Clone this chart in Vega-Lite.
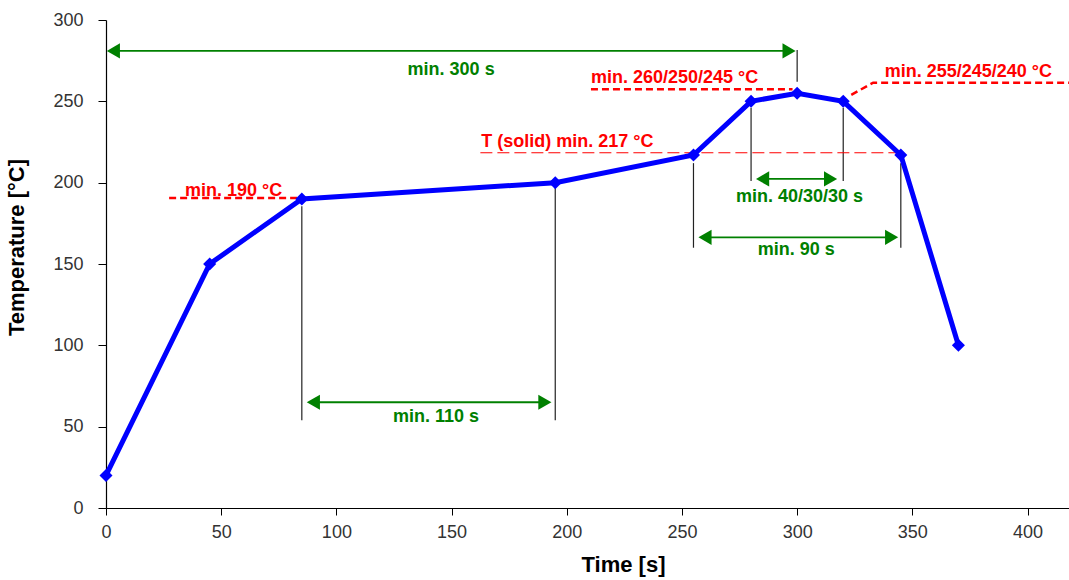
{
  "$schema": "https://vega.github.io/schema/vega-lite/v6.json",
  "autosize": "none",
  "width": 963,
  "height": 488,
  "padding": {"left": 106, "top": 20, "right": 0, "bottom": 72},
  "background": "white",
  "config": {"view": {"stroke": null}, "font": "Liberation Sans"},
  "datasets": {
    "profile": [
      {"t": 0, "temp": 20}, {"t": 45, "temp": 150}, {"t": 85, "temp": 190},
      {"t": 195, "temp": 200}, {"t": 255, "temp": 217}, {"t": 280, "temp": 250},
      {"t": 300, "temp": 255}, {"t": 320, "temp": 250}, {"t": 345, "temp": 217},
      {"t": 370, "temp": 100}
    ],
    "arrows": [
      {"x1": 3.2, "x2": 296.5, "y": 281},
      {"x1": 90, "x2": 190.5, "y": 65},
      {"x1": 285, "x2": 314.5, "y": 202.3},
      {"x1": 260, "x2": 341, "y": 166.4}
    ],
    "vlines": [
      {"x": 300, "y1": 281.5, "y2": 262},
      {"x": 85, "y1": 185.5, "y2": 54},
      {"x": 195, "y1": 197, "y2": 54},
      {"x": 255, "y1": 212, "y2": 160},
      {"x": 280, "y1": 246, "y2": 201},
      {"x": 320, "y1": 246, "y2": 201},
      {"x": 345, "y1": 212, "y2": 160}
    ],
    "reddash": [
      {"g": "a", "x": 27.4, "y": 190.5}, {"g": "a", "x": 84, "y": 190.5},
      {"g": "b", "x": 210.5, "y": 257.4}, {"g": "b", "x": 298, "y": 257.4},
      {"g": "c", "x": 323.5, "y": 254}, {"g": "c", "x": 333, "y": 261.5}, {"g": "c", "x": 418, "y": 261.5}
    ],
    "solidline": [
      {"x": 162.5, "y": 218.4}, {"x": 345, "y": 218.4}
    ],
    "greentext": [
      {"x": 149.8, "y": 266.2, "label": "min. 300 s"},
      {"x": 143.2, "y": 53, "label": "min. 110 s"},
      {"x": 301, "y": 188.3, "label": "min. 40/30/30 s"},
      {"x": 299.6, "y": 155.5, "label": "min. 90 s"}
    ],
    "redtext": [
      {"x": 34.3, "y": 192, "label": "min. 190 °C"},
      {"x": 162.9, "y": 221.9, "label": "T (solid) min. 217 °C"},
      {"x": 210.5, "y": 261.3, "label": "min. 260/250/245 °C"},
      {"x": 338, "y": 265, "label": "min. 255/245/240 °C"}
    ]
  },
  "layer": [
    {
      "data": {"name": "vlines"},
      "mark": {"type": "rule", "color": "#222222", "strokeWidth": 1.2},
      "encoding": {
        "x": {"field": "x", "type": "quantitative",
          "scale": {"domain": [0, 418], "nice": false, "zero": false},
          "axis": {"title": "Time [s]", "values": [0, 50, 100, 150, 200, 250, 300, 350, 400],
            "grid": false, "domainColor": "#000000", "domainWidth": 1.2, "tickColor": "#000000",
            "tickSize": 7, "labelFontSize": 18, "labelColor": "#333333", "labelPadding": 8, "labelFlush": false,
            "labelFont": "Liberation Sans", "titleFont": "Liberation Sans",
            "titleFontSize": 22, "titleFontWeight": "bold", "titleColor": "#000000",
            "titleX": 517, "titleY": 46, "titleAlign": "center", "titleBaseline": "top"}},
        "x2": {"field": "x"},
        "y": {"field": "y1", "type": "quantitative",
          "scale": {"domain": [0, 300], "nice": false},
          "axis": {"title": "Temperature [°C]", "values": [0, 50, 100, 150, 200, 250, 300],
            "grid": false, "domainColor": "#000000", "domainWidth": 1.2, "tickColor": "#000000",
            "tickSize": 8, "labelFontSize": 18, "labelColor": "#333333", "labelPadding": 15, "labelFlush": false,
            "labelFont": "Liberation Sans", "titleFont": "Liberation Sans",
            "titleFontSize": 22, "titleFontWeight": "bold", "titleColor": "#000000",
            "titleX": -78, "titleY": 227, "titleAlign": "center", "titleBaseline": "bottom", "titleAngle": -90}},
        "y2": {"field": "y2"}
      }
    },
    {
      "data": {"name": "reddash"},
      "mark": {"type": "line", "color": "#ff0000", "strokeWidth": 2.5, "strokeDash": [7, 4]},
      "encoding": {
        "x": {"field": "x", "type": "quantitative"},
        "y": {"field": "y", "type": "quantitative"},
        "detail": {"field": "g"}
      }
    },
    {
      "data": {"name": "solidline"},
      "mark": {"type": "line", "color": "#ff0000", "strokeWidth": 1.2, "strokeDash": [12, 5]},
      "encoding": {
        "x": {"field": "x", "type": "quantitative"},
        "y": {"field": "y", "type": "quantitative"}
      }
    },
    {
      "data": {"name": "arrows"},
      "mark": {"type": "rule", "color": "#008000", "strokeWidth": 1.8},
      "encoding": {
        "x": {"field": "x1", "type": "quantitative"},
        "x2": {"field": "x2"},
        "y": {"field": "y", "type": "quantitative"}
      }
    },
    {
      "data": {"name": "arrows"},
      "mark": {"type": "point", "shape": "triangle-left", "filled": true, "color": "#008000", "size": 230, "opacity": 1},
      "encoding": {
        "x": {"field": "x1", "type": "quantitative"},
        "y": {"field": "y", "type": "quantitative"}
      }
    },
    {
      "data": {"name": "arrows"},
      "mark": {"type": "point", "shape": "triangle-right", "filled": true, "color": "#008000", "size": 230, "opacity": 1},
      "encoding": {
        "x": {"field": "x2", "type": "quantitative"},
        "y": {"field": "y", "type": "quantitative"}
      }
    },
    {
      "data": {"name": "profile"},
      "mark": {"type": "line", "color": "#0000ff", "strokeWidth": 5},
      "encoding": {
        "x": {"field": "t", "type": "quantitative"},
        "y": {"field": "temp", "type": "quantitative"}
      }
    },
    {
      "data": {"name": "profile"},
      "mark": {"type": "point", "shape": "diamond", "filled": true, "color": "#0000ff", "size": 170, "opacity": 1},
      "encoding": {
        "x": {"field": "t", "type": "quantitative"},
        "y": {"field": "temp", "type": "quantitative"}
      }
    },
    {
      "data": {"name": "greentext"},
      "mark": {"type": "text", "color": "#008000", "font": "Liberation Sans", "fontWeight": "bold", "fontSize": 18, "align": "center", "baseline": "alphabetic"},
      "encoding": {
        "x": {"field": "x", "type": "quantitative"},
        "y": {"field": "y", "type": "quantitative"},
        "text": {"field": "label"}
      }
    },
    {
      "data": {"name": "redtext"},
      "mark": {"type": "text", "color": "#ff0000", "font": "Liberation Sans", "fontWeight": "bold", "fontSize": 18, "align": "left", "baseline": "alphabetic"},
      "encoding": {
        "x": {"field": "x", "type": "quantitative"},
        "y": {"field": "y", "type": "quantitative"},
        "text": {"field": "label"}
      }
    }
  ]
}
